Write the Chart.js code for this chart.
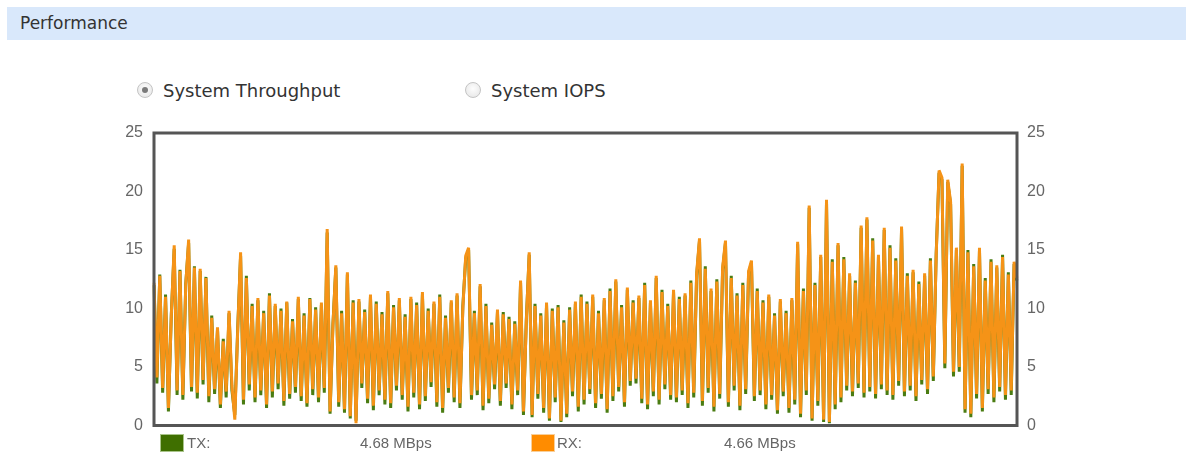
<!DOCTYPE html>
<html>
<head>
<meta charset="utf-8">
<title>Performance</title>
<script src="https://cdn.jsdelivr.net/npm/chart.js@4.4.0/dist/chart.umd.min.js"></script>
<style>
  body { margin: 0; width: 1193px; height: 461px; background: #fff; position: relative; overflow: hidden; font-family: "DejaVu Sans", sans-serif; }
  .header { position: absolute; left: 7px; top: 7px; width: 1179px; height: 33px; background: #d9e8fb; }
  .header span { position: absolute; left: 13px; top: 6px; font-size: 17px; line-height: 20px; color: #333; }
  .radio { position: absolute; top: 81px; font-size: 18px; line-height: 20px; color: #333; white-space: nowrap; }
  .radio i { position: absolute; left: -26px; top: 1px; width: 14px; height: 14px; border: 1px solid #c4c4c4; border-radius: 50%;
             background: radial-gradient(circle at 50% 40%, #fdfdfd 0%, #e4e4e4 100%); }
  .radio.on i::after { content: ""; position: absolute; left: 4px; top: 4px; width: 6px; height: 6px; border-radius: 50%; background: #7a7a7a; }
  #chartBox { position: absolute; left: 0; top: 0; width: 1193px; height: 461px; }
  .legend { position: absolute; top: 434px; font-family: "Liberation Sans", Arial, sans-serif; font-size: 15px; line-height: 18px; color: #666; white-space: nowrap; }
  .swatch { position: absolute; top: 434px; width: 22px; height: 16px; border: 1px solid; }
</style>
</head>
<body>
<div class="header"><span>Performance</span></div>
<div class="radio on" style="left:163px"><i></i>System Throughput</div>
<div class="radio" style="left:491px"><i></i>System IOPS</div>

<div id="chartBox"><canvas id="perf" width="1193" height="461"></canvas></div>

<div class="swatch" style="left:160px; background:#3f6f00; border-color:#a9c48a"></div>
<div class="legend" style="left:187px">TX:</div>
<div class="legend" style="left:360px">4.68 MBps</div>
<div class="swatch" style="left:531px; background:#ff8c00; border-color:#f8cf9a"></div>
<div class="legend" style="left:557px">RX:</div>
<div class="legend" style="left:724px">4.66 MBps</div>

<script>
// throughput samples in MBps
const rx = [
  12.2, 4.1, 12.8, 3.2, 11.0, 1.5, 9.4, 15.4, 3.0, 13.2, 2.6, 12.0, 15.9, 3.3, 13.5, 2.8, 13.4, 3.9, 12.6, 2.5, 9.2, 3.1, 8.4, 1.8, 7.2, 2.9, 9.8, 3.4, 0.5, 8.1,
  14.8, 2.2, 12.6, 3.5, 10.2, 2.4, 10.9, 3.0, 9.6, 1.8, 11.1, 2.9, 10.4, 3.6, 9.8, 2.1, 10.6, 2.7, 8.9, 3.3, 11.0, 2.5, 9.4, 1.9, 10.8, 3.1, 9.9, 2.4, 10.5, 3.2,
  16.8, 1.2, 8.5, 13.7, 2.0, 9.6, 1.4, 13.1, 0.8, 10.5, 0.2, 10.8, 3.6, 9.7, 2.3, 11.2, 1.7, 10.4, 3.0, 9.5, 2.2, 11.5, 1.9, 10.1, 3.4, 10.9, 2.6, 9.3, 1.6, 11.0,
  2.8, 10.3, 1.8, 11.4, 2.5, 9.8, 3.7, 10.6, 2.0, 11.0, 1.5, 9.2, 3.2, 10.7, 2.4, 11.3, 1.9, 10.0, 14.5, 15.2, 2.6, 9.6, 3.0, 12.1, 1.7, 10.2, 2.3, 8.6, 3.5, 9.9,
  2.1, 9.5, 3.6, 9.1, 1.8, 8.7, 3.0, 12.4, 1.2, 8.9, 14.8, 0.9, 10.2, 2.7, 9.4, 1.5, 10.5, 0.6, 9.8, 2.4, 10.1, 0.4, 8.8, 1.0, 9.9, 2.9, 10.6, 1.6, 11.0, 2.2,
  10.4, 3.1, 11.2, 1.9, 9.6, 2.7, 10.9, 1.4, 11.5, 2.5, 12.5, 3.3, 10.1, 2.0, 11.8, 3.8, 10.5, 4.0, 11.1, 2.3, 12.0, 1.8, 10.7, 2.9, 12.8, 2.2, 11.4, 3.5, 10.2, 2.6,
  11.6, 2.4, 10.8, 3.0, 11.3, 1.9, 12.2, 2.8, 13.0, 16.0, 2.1, 13.4, 3.2, 11.7, 1.6, 12.3, 2.7, 13.5, 15.8, 2.0, 12.6, 3.4, 11.1, 1.7, 12.0, 3.1, 13.2, 14.1, 2.5, 11.5,
  3.0, 10.5, 1.8, 11.2, 2.6, 9.4, 1.3, 10.8, 2.9, 9.6, 1.5, 10.9, 2.2, 15.7, 1.0, 11.5, 3.0, 18.8, 0.6, 12.0, 2.1, 14.6, 0.5, 19.3, 0.3, 14.0, 1.8, 15.6, 2.4, 14.2,
  3.4, 13.0, 2.9, 12.2, 3.6, 17.1, 2.8, 17.8, 3.3, 15.8, 2.7, 14.6, 3.5, 16.9, 3.0, 15.2, 2.6, 14.1, 3.8, 17.0, 2.9, 12.8, 3.4, 13.3, 2.5, 12.1, 3.9, 13.0, 3.1, 14.1,
  4.2, 14.5, 21.8, 21.2, 5.3, 21.0, 19.1, 4.6, 15.2, 5.0, 22.4, 1.4, 14.8, 1.0, 13.6, 2.7, 15.2, 1.5, 12.4, 3.1, 14.0, 2.4, 13.7, 3.3, 14.4, 2.6, 12.9, 3.0, 14.0, 12.6
];
const tx = [
  12.0, 3.6, 12.9, 2.8, 11.2, 1.2, 9.5, 15.1, 2.6, 13.3, 2.2, 12.1, 15.6, 2.9, 13.6, 2.3, 13.2, 3.5, 12.7, 2.0, 9.4, 2.7, 8.2, 1.5, 7.4, 2.4, 9.6, 3.0, 0.9, 8.3,
  14.5, 1.8, 12.8, 3.0, 10.4, 2.0, 10.7, 2.6, 9.8, 1.5, 11.3, 2.4, 10.2, 3.1, 10.0, 1.7, 10.5, 2.3, 9.1, 2.8, 10.8, 2.1, 9.6, 1.6, 10.9, 2.6, 10.1, 2.0, 10.3, 2.8,
  16.5, 1.0, 8.7, 13.5, 1.6, 9.8, 1.1, 12.9, 0.6, 10.7, 0.4, 10.6, 3.2, 9.9, 1.9, 11.0, 1.3, 10.6, 2.6, 9.7, 1.8, 11.3, 1.5, 10.3, 3.0, 10.7, 2.2, 9.5, 1.2, 10.8,
  2.4, 10.5, 1.4, 11.2, 2.1, 10.0, 3.3, 10.4, 1.6, 11.2, 1.1, 9.4, 2.8, 10.5, 2.0, 11.1, 1.5, 10.2, 14.3, 15.0, 2.2, 9.8, 2.6, 11.9, 1.3, 10.4, 1.9, 8.8, 3.1, 9.7,
  1.7, 9.7, 3.2, 9.3, 1.4, 8.9, 2.6, 12.2, 0.9, 9.1, 14.6, 0.7, 10.4, 2.3, 9.6, 1.1, 10.3, 0.4, 10.0, 2.0, 10.3, 0.3, 9.0, 0.7, 10.1, 2.5, 10.4, 1.2, 11.2, 1.8,
  10.6, 2.7, 11.0, 1.5, 9.8, 2.3, 10.7, 1.1, 11.7, 2.1, 12.3, 2.9, 10.3, 1.6, 11.6, 3.4, 10.7, 3.6, 10.9, 1.9, 12.2, 1.4, 10.5, 2.5, 12.6, 1.8, 11.6, 3.1, 10.4, 2.2,
  11.4, 2.0, 11.0, 2.6, 11.1, 1.5, 12.4, 2.4, 12.8, 15.8, 1.7, 13.6, 2.8, 11.5, 1.2, 12.5, 2.3, 13.3, 15.6, 1.6, 12.8, 3.0, 11.3, 1.3, 12.2, 2.7, 13.0, 13.9, 2.1, 11.7,
  2.6, 10.7, 1.4, 11.0, 2.2, 9.6, 1.0, 10.6, 2.5, 9.8, 1.1, 10.7, 1.8, 15.5, 0.7, 11.7, 2.6, 18.6, 0.4, 12.2, 1.7, 14.4, 0.3, 19.1, 0.2, 14.2, 1.4, 15.4, 2.0, 14.4,
  3.0, 12.8, 2.5, 12.4, 3.2, 16.9, 2.4, 17.6, 2.9, 16.0, 2.3, 14.4, 3.1, 16.7, 2.6, 15.4, 2.2, 14.3, 3.4, 16.8, 2.5, 13.0, 3.0, 13.1, 2.1, 12.3, 3.5, 12.8, 2.7, 14.3,
  3.8, 14.7, 21.6, 21.0, 4.9, 20.8, 18.9, 4.2, 15.0, 4.6, 22.2, 1.1, 15.0, 0.7, 13.8, 2.3, 15.0, 1.2, 12.6, 2.7, 14.2, 2.0, 13.5, 2.9, 14.6, 2.2, 13.1, 2.6, 13.8, 12.4
];
const yTicks = [0, 5, 10, 15, 20, 25];
const labels = rx.map((v, i) => i);

// dark box round the plot area
const framePlugin = {
  id: 'frame',
  afterDatasetsDraw(chart) {
    const { ctx, chartArea: a } = chart;
    ctx.save();
    ctx.strokeStyle = '#555';
    ctx.lineWidth = 3;
    ctx.strokeRect(a.left, a.top, a.right - a.left, a.bottom - a.top);
    ctx.restore();
  }
};

const axis = (position, width, pad) => ({
  position: position,
  min: 0,
  max: 25,
  grid: { display: false, drawTicks: false },
  border: { display: false },
  afterBuildTicks: (scale) => { scale.ticks = yTicks.map(v => ({ value: v })); },
  afterFit: (scale) => { scale.width = width; },
  ticks: {
    padding: pad,
    color: '#666',
    font: { family: '"Liberation Sans", Arial, sans-serif', size: 16 }
  }
});

const lineStyle = { borderWidth: 3, borderJoinStyle: 'bevel', pointRadius: 0, tension: 0, yAxisID: 'y' };

new Chart(document.getElementById('perf'), {
  type: 'line',
  data: {
    labels: labels,
    datasets: [
      { ...lineStyle, label: 'RX', data: rx, borderColor: '#f59317', order: 0 },
      { ...lineStyle, label: 'TX', data: tx, borderColor: '#4a7c12', order: 1 }
    ]
  },
  options: {
    responsive: false,
    animation: false,
    devicePixelRatio: 1,
    layout: { padding: { top: 133, bottom: 35.5, left: 0, right: 0 } },
    scales: {
      x: { display: false, offset: false },
      y: axis('left', 154, 11),
      y2: axis('right', 176, 10)
    },
    plugins: {
      legend: { display: false },
      tooltip: { enabled: false }
    }
  },
  plugins: [framePlugin]
});
</script>
</body>
</html>
